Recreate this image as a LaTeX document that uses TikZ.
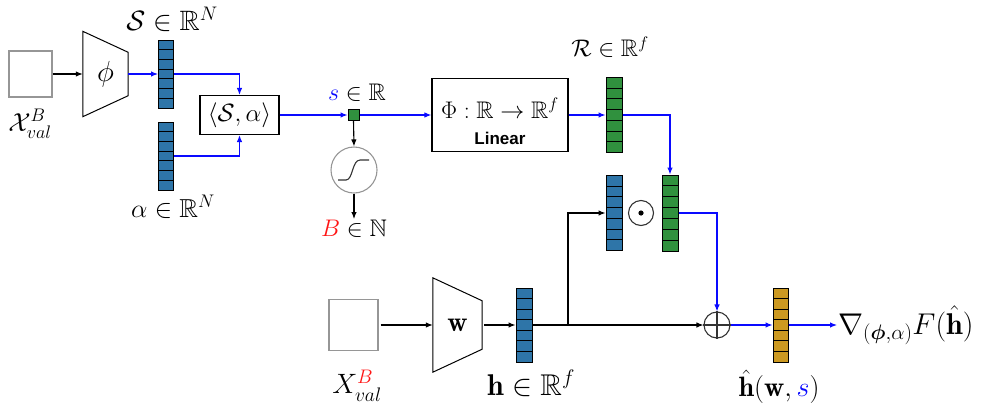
\RequirePackage{fix-cm}
\documentclass[tikz,border=0pt]{standalone}
\usepackage{amsmath,amssymb}
\usepackage{fontspec}
\newfontfamily\labfont{Liberation Sans}
\usetikzlibrary{arrows.meta,calc}
\definecolor{vblue}{RGB}{46,117,168}
\definecolor{vgreen}{RGB}{48,145,62}
\definecolor{vgold}{RGB}{204,153,33}
\definecolor{lblue}{RGB}{10,10,255}
\definecolor{boxgray}{RGB}{150,150,150}
\definecolor{cred}{RGB}{255,20,20}
\begin{document}
\begin{tikzpicture}[x=1pt,y=-1pt,
  every node/.style={font=\fontsize{24}{28}\selectfont},
  vec/.style={draw=black, line width=1pt, minimum width=15pt, minimum height=74pt, inner sep=0pt,
    path picture={\foreach \k in {1,...,6}{\draw[line width=0.9pt] ($(path picture bounding box.north west)!\k/7!(path picture bounding box.south west)$) -- ($(path picture bounding box.north east)!\k/7!(path picture bounding box.south east)$);}}},
  inbox/.style={draw=boxgray, line width=1.2pt, inner sep=0pt},
  trap/.style={inner sep=0pt},
  conn/.style={line width=1.1pt, -{Latex[length=7pt,width=5.5pt]}},
  bconn/.style={conn, draw=lblue, color=lblue},
  lbl/.style={inner sep=1pt},
  fs/.style={font=\fontsize{#1}{#1}\selectfont}
]
\useasboundingbox (0,0) rectangle (982,413);

% ---- top-left branch
\node[inbox, minimum width=43pt, minimum height=46pt] (in1) at (30.5,74) {};
\node[lbl, fs=26] (x1lab) at (30,124) {$\mathcal{X}^B_{val}$};
\node[trap, minimum width=45pt, minimum height=85pt, fs=29] (phi) at (105.5,74) {$\phi$};
\draw[line width=1pt] (phi.north west) -- ($(phi.north east)+(0,21)$) -- ($(phi.south east)+(0,-21)$) -- (phi.south west) -- cycle;
\node[vec, fill=vblue, minimum height=68pt] (S) at (166,74) {};
\node[lbl, fs=28] (Slab) at (172,19) {$\mathcal{S}\in\mathbb{R}^N$};
\node[vec, fill=vblue, minimum height=68pt] (al) at (166,156) {};
\node[lbl, fs=26] (allab) at (173,207) {$\alpha\in\mathbb{R}^N$};
\node[draw, line width=1.1pt, minimum width=79pt, minimum height=39pt, inner sep=0pt, fs=25] (ip) at (239.5,115) {$\langle\mathcal{S},\alpha\rangle$};

\draw[conn] (in1) -- (phi);
\draw[bconn] (phi.east) -- (S.west);
\draw[bconn] (S.east) -| (ip.north);
\draw[bconn] (al.east) -| (ip.south);

% ---- scalar s
\node[draw, line width=1pt, fill=vgreen, minimum size=11pt, inner sep=0pt] (sq) at (353.5,115) {};
\node[lbl] (slab) at (357,93) {$\color{lblue}s\color{black}\in\mathbb{R}$};
\node[circle, draw=boxgray, line width=1.1pt, minimum size=46pt, inner sep=0pt] (sig) at (354,170) {};
\draw[line width=1.1pt, black!80] ($(sig)+(-16,10)$) -- ($(sig)+(-8,10)$) .. controls ($(sig)+(-1,10)$) and ($(sig)+(-2,-10)$) .. ($(sig)+(6,-10)$) -- ($(sig)+(15,-10)$);
\node[lbl, anchor=north] (Blab) at (354,219) {$\color{cred}B\color{black}\in\mathbb{N}$};
\draw[bconn] (ip.east) -- (sq.west);
\draw[conn] (sq.south) -- (sig.north);
\draw[conn] (sig.south) -- (Blab.north);

% ---- linear map
\node[draw, line width=1.2pt, minimum width=136pt, minimum height=73pt, inner sep=0pt] (Phi) at (500,115) {};
\node[lbl] (Phitxt) at (500,108) {$\Phi:\mathbb{R}\rightarrow\mathbb{R}^f$};
\node[lbl, font=\labfont\bfseries\fontsize{17}{20}\selectfont] (lintxt) at (500,138) {Linear};
\draw[bconn] (sq.east) -- (Phi.west);
\node[vec, fill=vgreen, minimum width=16pt, minimum height=75pt] (R) at (614,115) {};
\node[lbl] (Rlab) at (610,47) {$\mathcal{R}\in\mathbb{R}^f$};
\draw[bconn] (Phi.east) -- (R.west);

% ---- product
\node[vec, fill=vblue, minimum width=16pt, minimum height=75pt] (b2) at (614,213) {};
\node[vec, fill=vgreen, minimum width=16pt, minimum height=76pt] (g2) at (670,213) {};
\node[circle, draw=black!80, line width=1.1pt, minimum size=25pt, inner sep=0pt] (od) at (641,213) {};
\fill (od) circle (2.6pt);
\draw[bconn] (R.east) -| (g2.north);

% ---- bottom branch
\node[inbox, minimum width=49pt, minimum height=51pt] (in2) at (353.5,325) {};
\node[lbl, fs=28] (x2lab) at (357,386) {$X_{val}^{{\color{cred}B}}$};
\node[trap, minimum width=49pt, minimum height=94pt, fs=28] (w) at (457.5,325) {$\mathbf{w}$};
\draw[line width=1pt] (w.north west) -- ($(w.north east)+(0,23)$) -- ($(w.south east)+(0,-23)$) -- (w.south west) -- cycle;
\node[vec, fill=vblue, minimum width=16pt] (h) at (524,325) {};
\node[lbl, fs=30] (hlab) at (531,383) {$\mathbf{h}\in\mathbb{R}^f$};
\coordinate (j) at (568,325);
\node[circle, draw=black!80, line width=1.1pt, minimum size=26pt, inner sep=0pt] (op) at (717,325) {};
\draw[line width=1.1pt, black!80] (op.north) -- (op.south) (op.west) -- (op.east);
\node[vec, fill=vgold] (hh) at (780.5,325) {};
\node[lbl, fs=28] (hhlab) at (779,387) {$\hat{\mathbf{h}}(\mathbf{w},{\color{lblue}s})$};
\node[lbl, fs=30, anchor=west] (grad) at (837,325) {$\nabla_{(\boldsymbol{\phi},\alpha)}F(\hat{\mathbf{h}})$};

\draw[conn] ([xshift=2pt]in2.east) -- (w.west);
\draw[conn] ([xshift=2pt]w.east) -- (h.west);
\draw[conn] (h.east) -- (op.west);
\draw[conn] (j) |- (b2.west);
\draw[bconn] (g2.east) -| (op.north);
\draw[bconn] (op.east) -- (hh.west);
\draw[bconn] (hh.east) -- (grad.west);
\end{tikzpicture}
\end{document}
